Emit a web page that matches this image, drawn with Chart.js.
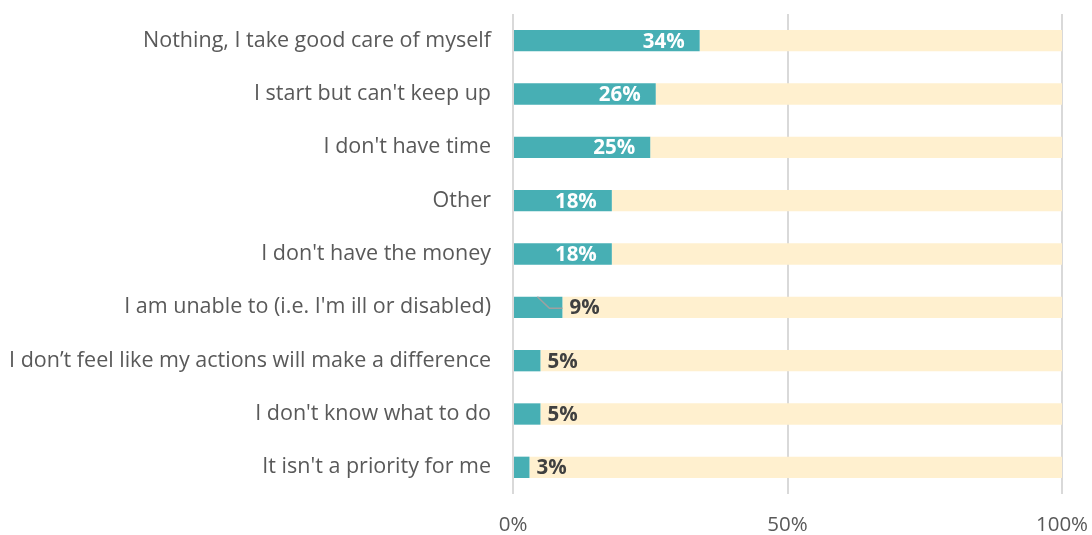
<!DOCTYPE html>
<html>
<head>
<meta charset="utf-8">
<script src="https://cdn.jsdelivr.net/npm/chart.js@4/dist/chart.umd.min.js"></script>
<style>
  html, body { margin: 0; padding: 0; background: #ffffff; }
  #wrap { width: 1092px; height: 535px; }
</style>
</head>
<body>
<div id="wrap"><canvas id="chart" width="1092" height="535"></canvas></div>
<script>
// Survey answers and the share of respondents choosing each one
const categories = [
  "Nothing, I take good care of myself",
  "I start but can't keep up",
  "I don't have time",
  "Other",
  "I don't have the money",
  "I am unable to (i.e. I'm ill or disabled)",
  "I don\u2019t feel like my actions will make a difference",
  "I don't know what to do",
  "It isn't a priority for me"
];
const shares = [34, 26, 25, 18, 18, 9, 5, 5, 3];
const xTicks = [0, 50, 100];

const TEAL = "#47afb4";
const CREAM = "#fff0cf";
const FONT = "'Open Sans', 'Noto Sans', sans-serif";

// Remainder up to 100% fills the cream track behind each bar
const remainder = shares.map(v => 100 - v);

// Writes the percentage on each teal bar: white inside long bars, dark beside short ones
const valueLabels = {
  id: "valueLabels",
  afterDatasetsDraw(chart) {
    const ctx = chart.ctx;
    const meta = chart.getDatasetMeta(0);
    ctx.save();
    ctx.font = "bold 20.5px " + FONT;
    ctx.textBaseline = "middle";
    meta.data.forEach((bar, i) => {
      const v = shares[i];
      const text = v + "%";
      if (v >= 15) {
        ctx.fillStyle = "#ffffff";
        ctx.textAlign = "right";
        ctx.fillText(text, bar.x - 15, bar.y + 1);
      } else {
        ctx.fillStyle = "#404040";
        ctx.textAlign = "left";
        ctx.fillText(text, bar.x + 7, bar.y + 1);
      }
    });
    // small leader line on the "unable" row
    const b = meta.data[5];
    if (b) {
      const top = b.y - b.height / 2;
      ctx.strokeStyle = "#a0a0a0";
      ctx.lineWidth = 1.5;
      ctx.beginPath();
      ctx.moveTo(b.x - 25, top);
      ctx.lineTo(b.x - 13, b.y + 1);
      ctx.lineTo(b.x, b.y + 1);
      ctx.stroke();
    }
    ctx.restore();
  }
};

new Chart(document.getElementById("chart"), {
  type: "bar",
  data: {
    labels: categories,
    datasets: [
      {
        data: shares,
        backgroundColor: TEAL,
        borderWidth: 0,
        barPercentage: 0.4,
        categoryPercentage: 1.0
      },
      {
        data: remainder,
        backgroundColor: CREAM,
        borderWidth: 0,
        barPercentage: 0.4,
        categoryPercentage: 1.0
      }
    ]
  },
  options: {
    indexAxis: "y",
    responsive: false,
    animation: false,
    layout: { padding: { top: 14, right: 30, left: 0, bottom: 0 } },
    plugins: {
      legend: { display: false },
      tooltip: { enabled: false }
    },
    scales: {
      x: {
        stacked: true,
        min: 0,
        max: 100,
        afterBuildTicks(scale) {
          scale.ticks = xTicks.map(v => ({ value: v }));
        },
        ticks: {
          callback: v => v + "%",
          color: "#595959",
          font: { family: FONT, size: 20.5 },
          padding: 19,
          maxRotation: 0
        },
        grid: {
          color: "#d9d9d9",
          lineWidth: 2,
          drawTicks: false
        },
        border: { display: false },
        afterFit(scale) {
          scale.height = 41;
          scale.paddingLeft = 0;
          scale.paddingRight = 0;
        }
      },
      y: {
        stacked: true,
        ticks: {
          color: "#595959",
          font: { family: FONT, size: 21.5 },
          padding: 22,
          autoSkip: false
        },
        grid: { display: false, drawTicks: false },
        border: { display: false },
        afterFit(scale) {
          scale.width = 513;
          scale.paddingTop = 0;
          scale.paddingBottom = 0;
        }
      }
    }
  },
  plugins: [valueLabels]
});
</script>
</body>
</html>
